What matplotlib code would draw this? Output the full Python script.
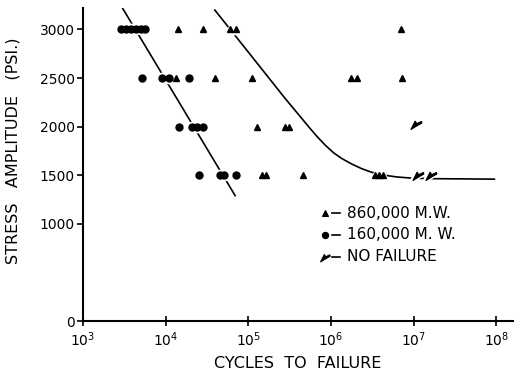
import numpy as np
import matplotlib
matplotlib.use("Agg")
import matplotlib.pyplot as plt
from matplotlib.path import Path

# ---- data ----
circ_cycles = [2900, 3300, 3800, 4400, 5000, 5600,
               5200, 9000, 10900, 19000,
               14400, 20700, 23800, 28100,
               25200, 45200, 50500, 70500]
circ_stress = [3000, 3000, 3000, 3000, 3000, 3000,
               2500, 2500, 2500, 2500,
               2000, 2000, 2000, 2000,
               1500, 1500, 1500, 1500]

tri_cycles = [14000, 28100, 59600, 70500, 7.1e6,
              13300, 39300, 110000, 1.73e6, 2.04e6, 7.3e6,
              126000, 275000, 307000,
              145000, 162000, 454000, 3.37e6, 3.76e6, 4.3e6]
tri_stress = [3000, 3000, 3000, 3000, 3000,
              2500, 2500, 2500, 2500, 2500, 2500,
              2000, 2000, 2000,
              1500, 1500, 1500, 1500, 1500, 1500]

nf_cycles = [1.08e7, 1.14e7, 1.64e7]
nf_stress = [2030, 1500, 1500]

line160_cycles = [10**3.47, 10**4.84]
line160_stress = [3230, 1290]

line860_log = [4.594, 5.017, 5.440, 5.621, 5.742, 5.838, 5.935, 6.031, 6.128,
               6.249, 6.370, 6.490, 6.635, 6.780, 6.949, 7.191, 7.976]
line860_stress = [3200, 2748, 2295, 2110, 1986, 1891, 1805, 1731, 1673,
                  1616, 1568, 1531, 1502, 1484, 1472, 1465, 1460]
line860_cycles = [10**v for v in line860_log]

yticks = [0, 1000, 1500, 2000, 2500, 3000]
xticks = [1e3, 1e4, 1e5, 1e6, 1e7, 1e8]
legend_labels = ["860,000 M.W.", "160,000 M. W.", "NO FAILURE"]

# ---- no-failure marker (arrow-like flag) ----
nf_verts = [(-1.0, -0.9), (-0.25, 0.6), (0.05, 0.15), (0.9, 0.55),
            (0.95, 0.25), (0.15, -0.2), (-0.1, -0.35), (-1.0, -0.9)]
nf_codes = [Path.MOVETO] + [Path.LINETO] * 6 + [Path.CLOSEPOLY]
nf_marker = Path(nf_verts, nf_codes)

plt.rcParams['font.family'] = ['DejaVu Sans']
fig = plt.figure(figsize=(5.16, 3.77), dpi=100)
ax = fig.add_axes([0.161, 0.1485, 0.833, 0.830])

ax.set_xscale('log')
ax.set_xlim(1e3, 10**8.2)
ax.set_ylim(0, 3220)

lw = 1.2
ax.plot(line160_cycles, line160_stress, color='black', lw=lw, zorder=1)
ax.plot(line860_cycles, line860_stress, color='black', lw=lw, zorder=1)

# white halos to break the lines around markers
ax.plot(circ_cycles, circ_stress, 'o', color='white', ms=7.5, zorder=2, ls='none')
ax.plot(tri_cycles, tri_stress, '^', color='white', ms=7.5, zorder=2, ls='none')
ax.plot(nf_cycles, nf_stress, marker=nf_marker, color='white', ms=12, zorder=2, ls='none', mew=2)

ax.plot(circ_cycles, circ_stress, 'o', color='black', ms=5, zorder=3, ls='none')
ax.plot(tri_cycles, tri_stress, '^', color='black', ms=5, zorder=3, ls='none')
ax.plot(nf_cycles, nf_stress, marker=nf_marker, color='black', ms=8, zorder=3, ls='none', mew=0.8)

# legend drawn manually
leg_y = [0.345, 0.275, 0.205]
markers = ['^', 'o', nf_marker]
msizes = [4.5, 4.5, 7]
for yy, mk, ms, lab in zip(leg_y, markers, msizes, legend_labels):
    ax.plot([0.562], [yy], marker=mk, color='black', ms=ms, mew=0.8,
            transform=ax.transAxes, clip_on=False, ls='none')
    ax.plot([0.58, 0.597], [yy, yy], color='black', lw=1.2, transform=ax.transAxes)
    ax.text(0.615, yy, lab, transform=ax.transAxes, va='center', ha='left', fontsize=11)

for s in ['top', 'right']:
    ax.spines[s].set_visible(False)
for s in ['left', 'bottom']:
    ax.spines[s].set_linewidth(1.5)

ax.set_yticks(yticks)
ax.set_xticks(xticks)
ax.xaxis.set_minor_locator(matplotlib.ticker.NullLocator())
ax.tick_params(axis='y', direction='out', length=4, width=1.2, labelsize=10, pad=2)
ax.tick_params(axis='x', direction='inout', length=7, width=1.2, labelsize=10, pad=3)

ax.set_xlabel('CYCLES  TO  FAILURE', fontsize=11.5, labelpad=5)
ax.set_ylabel('STRESS   AMPLITUDE   (PSI.)', fontsize=11.5, labelpad=8)
ax.yaxis.set_label_coords(-0.145, 0.545)

fig.savefig('out.png', dpi=100)
